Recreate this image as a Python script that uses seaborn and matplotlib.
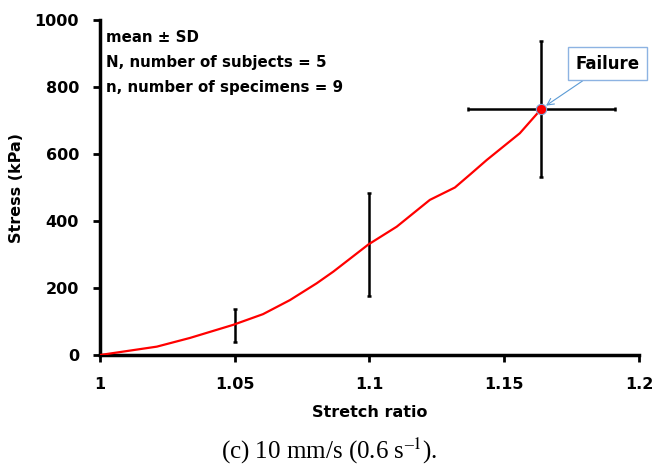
import matplotlib
matplotlib.use("Agg")
import matplotlib.pyplot as plt
import numpy as np
import pandas as pd
import seaborn as sns

# Mean stress-stretch curve at 10 mm/s
stretch = [1.0, 1.0211, 1.0334, 1.0494, 1.0605, 1.0705, 1.0804, 1.0866, 1.0996,
           1.1101, 1.1224, 1.1317, 1.1375, 1.1435, 1.1558, 1.1638]
stress = [0, 25, 51, 90, 122, 164, 214, 249, 330, 383, 463, 500, 540, 582, 662, 735]

# Mean ± SD of stress at selected stretch ratios
sd_stretch = [1.05, 1.10]
sd_mean = [89, 330]
sd_stress = [49, 153]

# Failure point (mean ± SD in both directions)
fail_stretch = 1.1638
fail_stress = 735
fail_sd_stretch = 0.0272
fail_sd_stress = 203

x_ticks = [1, 1.05, 1.1, 1.15, 1.2]
x_ticklabels = ["1", "1.05", "1.1", "1.15", "1.2"]
y_ticks = [0, 200, 400, 600, 800, 1000]

notes = ["mean \u00b1 SD", "N, number of subjects = 5", "n, number of specimens = 9"]

sns.set_style("ticks")
plt.rcParams["font.family"] = ["DejaVu Sans"]
plt.rcParams["mathtext.fontset"] = "stix"
for key in ["text.color", "axes.labelcolor", "xtick.color", "ytick.color"]:
    plt.rcParams[key] = "black"

fig = plt.figure(figsize=(6.54, 4.67), dpi=100)
ax = fig.add_axes([0.1529, 0.2398, 0.8241, 0.7174])

curve = pd.DataFrame({"stretch": stretch, "stress": stress})
sns.lineplot(data=curve, x="stretch", y="stress", ax=ax, color="#ff0000",
             linewidth=1.6, sort=False, zorder=3)

ax.errorbar(sd_stretch, sd_mean, yerr=sd_stress, fmt="none", ecolor="black",
            elinewidth=1.8, capsize=1.5, capthick=1.8, zorder=2)
ax.errorbar([fail_stretch], [fail_stress], xerr=[fail_sd_stretch],
            yerr=[fail_sd_stress], fmt="none", ecolor="black",
            elinewidth=1.8, capsize=1.2, capthick=1.8, zorder=2)
sns.scatterplot(x=[fail_stretch], y=[fail_stress], ax=ax, color="#ff0000",
                s=55, edgecolor="#7fa7d9", linewidth=0.8, zorder=4)

ax.annotate("Failure", xy=(fail_stretch, fail_stress), xytext=(1.1884, 869),
            fontsize=12, fontweight="bold", ha="center", va="center",
            bbox=dict(boxstyle="square,pad=0.45", fc="white", ec="#8db3e2", lw=1.0),
            arrowprops=dict(arrowstyle="->", color="#5b9bd5", lw=0.8,
                            shrinkA=0, shrinkB=4),
            zorder=5)

for i, t in enumerate(notes):
    ax.text(0.012, 0.949 - i * 0.0746, t, transform=ax.transAxes, fontsize=10.8,
            fontweight="bold", ha="left", va="center")

ax.set_xlim(1.0, 1.2)
ax.set_ylim(0, 1000)
ax.set_xticks(x_ticks)
ax.set_xticklabels(x_ticklabels)
ax.set_yticks(y_ticks)
for lab in ax.get_xticklabels() + ax.get_yticklabels():
    lab.set_fontweight("bold")
    lab.set_fontsize(11.5)
ax.tick_params(axis="both", direction="out", length=5, width=2, color="black")
ax.tick_params(axis="x", pad=11)
ax.tick_params(axis="y", pad=10)

ax.set_xlabel("Stretch ratio", fontsize=11.5, fontweight="bold", labelpad=9)
ax.set_ylabel("Stress (kPa)", fontsize=11.5, fontweight="bold", labelpad=8)

sns.despine(ax=ax)
for s in ["left", "bottom"]:
    ax.spines[s].set_linewidth(2.5)
    ax.spines[s].set_color("black")

fig.text(0.503, 0.035, "(c) 10 mm/s (0.6 s$^{\\mathregular{\u2013}1}$).",
         ha="center", va="center", fontsize=18, family="Liberation Serif")

fig.savefig("out.png", dpi=100)
